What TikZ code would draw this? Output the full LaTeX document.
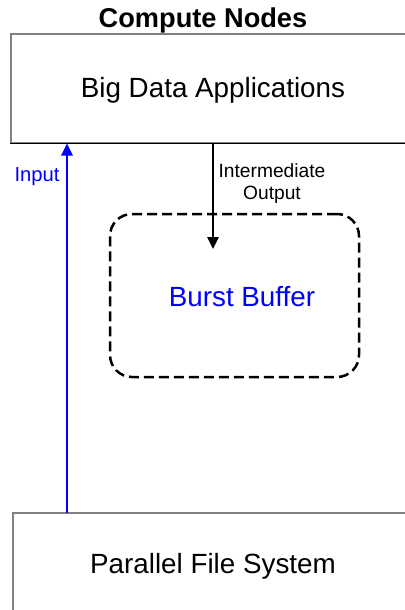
\documentclass[tikz,border=0pt]{standalone}
\usepackage{fontspec}
\setmainfont{Liberation Sans}
\usetikzlibrary{arrows.meta}
\definecolor{pureblue}{RGB}{0,0,255}
\definecolor{edgegray}{RGB}{128,128,128}
\begin{document}
\begin{tikzpicture}[x=1pt,y=-1pt,
  box/.style={draw=edgegray,line width=1.4pt,minimum width=#1,inner sep=0pt},
  boxlabel/.style={font=\fontsize{27.8}{30}\selectfont,inner sep=0pt},
  smalllabel/.style={font=\fontsize{19.2}{22}\selectfont,inner sep=0pt,align=center},
  flow/.style={line width=2.5pt,-{Triangle[length=12pt,width=11pt]}}]
\useasboundingbox (0,0) rectangle (404,610);
\fill[white] (0,0) rectangle (404,610);
% title
\node[font=\bfseries\fontsize{27.2}{30}\selectfont,inner sep=0pt] (title) at (203,20) {Compute Nodes};
% top box (extends past the right edge)
\node[box=419pt,minimum height=109pt] (apps) at (220.5,88.5) {};
\draw[black,line width=1.2pt] (apps.south west) -- (apps.south east);
\node[boxlabel] (appslbl) at (213,90) {Big Data Applications};
% bottom box (extends past the bottom edge)
\node[box=419pt,minimum height=120pt] (pfs) at (222.5,573) {};
\node[boxlabel] (pfslbl) at (213,566) {Parallel File System};
% burst buffer
\node[draw=black,dashed,line width=2.5pt,dash pattern=on 10pt off 5pt,rounded corners=22pt,
      minimum width=249pt,minimum height=163pt,inner sep=0pt] (bb) at (234.5,295.5) {};
\node[boxlabel,text=pureblue] (bblbl) at (242,297) {Burst Buffer};
% connectors
\coordinate (inbot) at (67,513);
\coordinate (intop) at (67,143.5);
\draw[flow,pureblue] (inbot) -- (intop);
\node[smalllabel,text=pureblue,font=\fontsize{20.2}{22}\selectfont] (inlbl) at (37,177) {Input};
\coordinate (outtop) at (213,143.5);
\coordinate (outbot) at (213,249);
\draw[flow,black] (outtop) -- (outbot);
\node[smalllabel,anchor=north] (outlbl) at (272,163) {Intermediate\\Output};
\end{tikzpicture}
\end{document}
